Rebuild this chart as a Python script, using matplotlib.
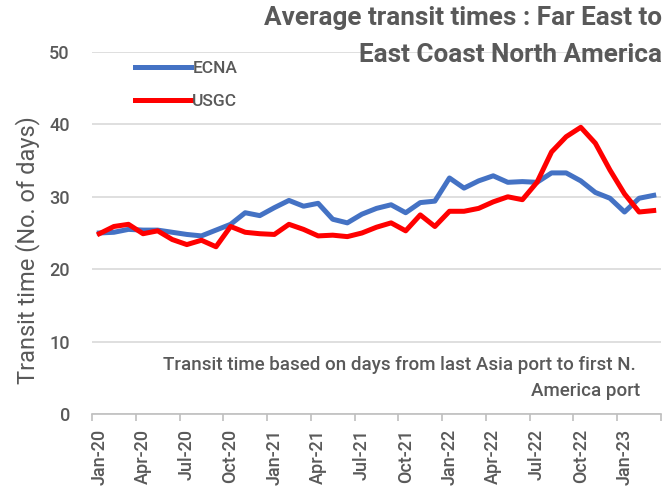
import numpy as np
import pandas as pd
import matplotlib
matplotlib.use("Agg")
import matplotlib.pyplot as plt

# monthly categories Jan-20 .. Mar-23
months = pd.date_range("2020-01-01", "2023-03-01", freq="MS").strftime("%b-%y").tolist()

ecna = [25.0, 25.1, 25.5, 25.4, 25.4, 25.1, 24.8, 24.6, 25.4, 26.2, 27.8, 27.4,
        28.5, 29.5, 28.7, 29.1, 26.9, 26.4, 27.6, 28.4, 28.9, 27.8, 29.2, 29.4,
        32.6, 31.2, 32.2, 32.9, 32.0, 32.1, 32.0, 33.3, 33.3, 32.2, 30.6, 29.8,
        27.9, 29.8, 30.2]
usgc = [24.9, 25.9, 26.2, 24.9, 25.3, 24.1, 23.4, 24.0, 23.1, 25.9, 25.1, 24.9,
        24.8, 26.2, 25.5, 24.6, 24.7, 24.5, 25.0, 25.8, 26.4, 25.3, 27.5, 25.9,
        28.0, 28.0, 28.4, 29.3, 30.0, 29.6, 32.0, 36.2, 38.3, 39.6, 37.4, 33.7,
        30.4, 27.9, 28.1]

grey = "#595959"
plt.rcParams["font.family"] = ["Roboto", "DejaVu Sans"]
plt.rcParams["font.weight"] = "medium"

W, H = 666, 491
fig = plt.figure(figsize=(W / 100, H / 100), dpi=100)
left, right, top, bottom = 92, 661, 52, 414
ax = fig.add_axes([left / W, 1 - bottom / H, (right - left) / W, (bottom - top) / H])

x = np.arange(len(months))
ax.plot(x, ecna, color="#4472C4", lw=3.6, solid_joinstyle="round", label="ECNA", zorder=3)
ax.plot(x, usgc, color="#FF0000", lw=3.6, solid_joinstyle="round", label="USGC", zorder=3)

ax.set_xlim(-0.5, len(months) - 0.5)
ax.set_ylim(0, 50)
ax.set_yticks(range(0, 51, 10))
ax.yaxis.grid(True, color="#d9d9d9", lw=1.2)
ax.set_axisbelow(True)
for s in ["left", "right", "top"]:
    ax.spines[s].set_visible(False)
ax.spines["bottom"].set_color("#bfbfbf")
ax.spines["bottom"].set_linewidth(1.2)
ax.tick_params(axis="y", length=0, pad=16, labelsize=13, labelcolor=grey)

# ticks between categories, labels every 3 months
ax.set_xticks(np.arange(-0.5, len(months), 3), minor=True)
ax.set_xticks(x[::3])
ax.set_xticklabels(months[::3], rotation=90, fontsize=13, color=grey)
ax.tick_params(axis="x", which="major", length=0, pad=11)
ax.tick_params(axis="x", which="minor", length=5, color="#bfbfbf", width=1.2)

ax.set_ylabel("Transit time (No. of days)", fontsize=17, color=grey)
ax.yaxis.set_label_coords((40 - left) / (right - left), (bottom - 250) / (bottom - top))

fig.text(662 / W, 1 - 18 / H, "Average transit times : Far East to", ha="right", va="center",
         fontsize=18.8, fontweight="bold", color=grey)
fig.text(662 / W, 1 - 55 / H, "East Coast North America", ha="right", va="center",
         fontsize=18.8, fontweight="bold", color=grey)

ax.legend(loc="upper left", bbox_to_anchor=((135 - left) / (right - left), (bottom - 61) / (bottom - top)),
          frameon=False, borderpad=0, borderaxespad=0, fontsize=12.5, labelcolor=grey,
          handlelength=3.2, handletextpad=0.1, labelspacing=1.0)

fig.text(636 / W, 1 - 365 / H, "Transit time based on days from last Asia port to first N.",
         ha="right", va="center", fontsize=13.5, color=grey)
fig.text(640 / W, 1 - 391 / H, "America port", ha="right", va="center", fontsize=13.5, color=grey)

fig.savefig("out.png", dpi=100)
